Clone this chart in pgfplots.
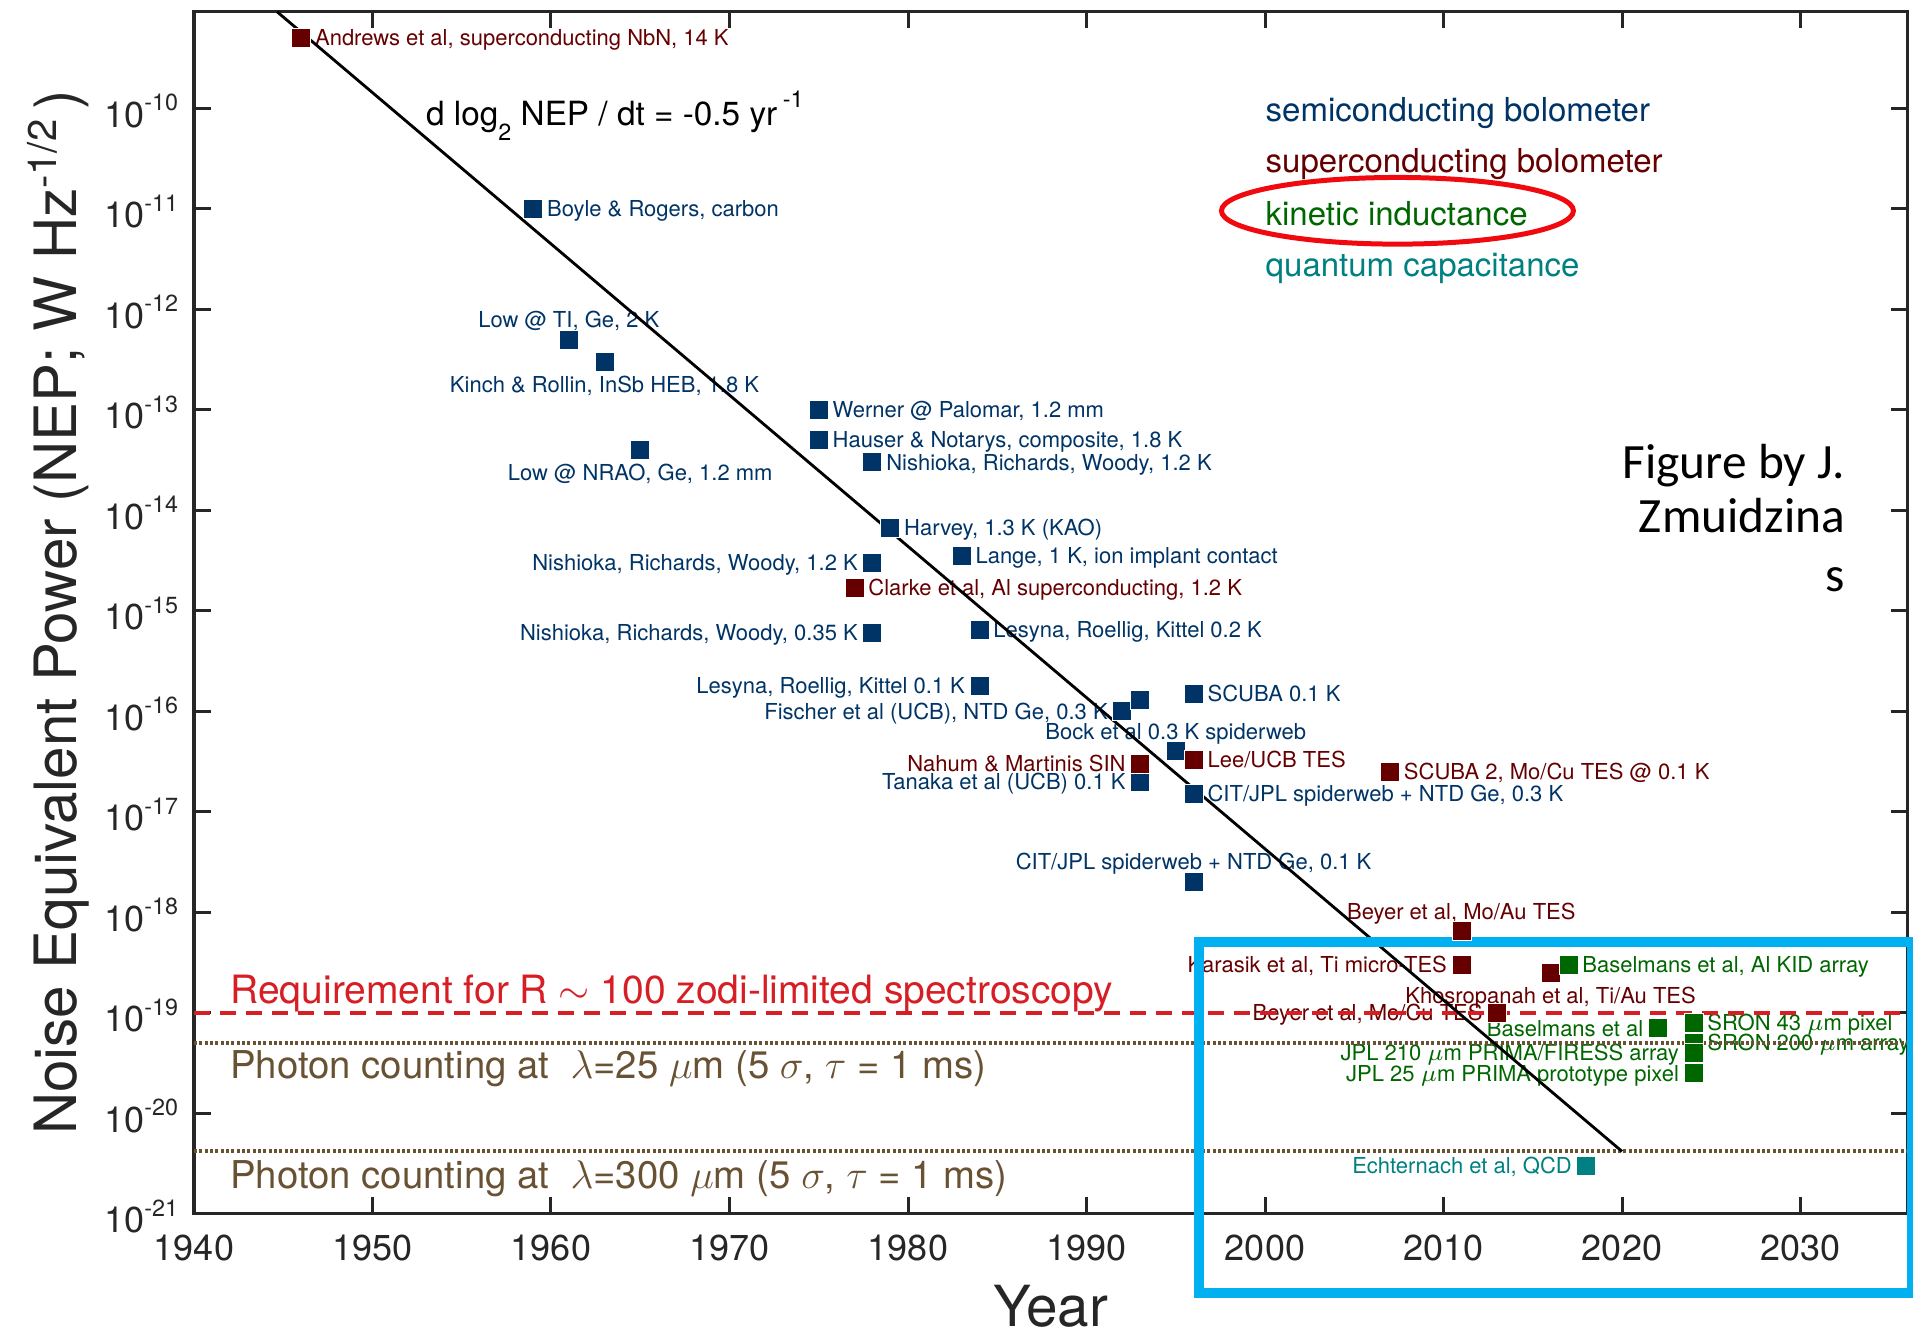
\documentclass[border=0pt]{standalone}
\usepackage{pgfplots}
\pgfplotsset{compat=1.18}
\usepackage{fontspec}
\setmainfont{TeX Gyre Heros}
\newfontfamily\credfont{Carlito}

\definecolor{semi}{RGB}{0,51,102}
\definecolor{supr}{RGB}{102,0,0}
\definecolor{kid}{RGB}{0,102,0}
\definecolor{qcd}{RGB}{0,128,128}
\definecolor{req}{RGB}{214,30,36}
\definecolor{phot}{RGB}{105,82,52}
\definecolor{axgray}{RGB}{38,38,38}
\definecolor{boxblue}{RGB}{0,176,240}
\definecolor{ring}{RGB}{240,10,15}

% small raised exponent, MATLAB style
\newcommand\tsup[1]{\raisebox{5pt}{\fontsize{7}{7}\selectfont #1}}

\tikzset{
  lbl/.style={font=\fontsize{6.6}{7.9}\selectfont, inner sep=0pt},
  R/.style={lbl, anchor=base west, xshift=4pt, yshift=-2.37pt},
  L/.style={lbl, anchor=base east, xshift=-4.15pt, yshift=-2.37pt},
  A/.style={lbl, anchor=base, yshift=3.6pt},
  B/.style={lbl, anchor=base, yshift=-9.1pt},
}

\begin{document}
\begin{tikzpicture}
\begin{axis}[
  scale only axis, width=514.1pt, height=360.6pt,
  xmin=1940, xmax=2036, ymode=log, ymin=1e-21, ymax=9.12e-10,
  clip=false,
  axis line style={axgray, line width=1pt},
  tick style={axgray, line width=0.9pt},
  major tick length=5pt, tick align=inside,
  yminorticks=false,
  xtick={1940,1950,...,2030},
  xticklabels={1940,1950,1960,1970,1980,1990,2000,2010,2020,2030},
  ytick={1e-21,1e-20,1e-19,1e-18,1e-17,1e-16,1e-15,1e-14,1e-13,1e-12,1e-11,1e-10},
  yticklabels={{10\tsup{-21}},{10\tsup{-20}},{10\tsup{-19}},{10\tsup{-18}},{10\tsup{-17}},{10\tsup{-16}},{10\tsup{-15}},{10\tsup{-14}},{10\tsup{-13}},{10\tsup{-12}},{10\tsup{-11}},{10\tsup{-10}}},
  xticklabel style={font=\fontsize{10.8}{13}\selectfont, anchor=base, inner sep=0pt, yshift=-14.1pt, text=axgray},
  yticklabel style={font=\fontsize{10.8}{13}\selectfont, anchor=base east, inner sep=0pt, xshift=-4.6pt, yshift=-5.7pt, text=axgray},
  xlabel={Year},
  xlabel style={font=\fontsize{17}{20}\selectfont, at={(axis description cs:0.5,0)}, anchor=base, yshift=-33.9pt, inner sep=0pt, text=axgray},
  ylabel={Noise Equivalent Power (NEP; W Hz\raisebox{6pt}{\fontsize{12}{12}\selectfont -1/2}\,)},
  ylabel style={font=\fontsize{17.5}{20}\selectfont, at={(axis description cs:-0.0686,0.5)}, anchor=base, inner sep=0pt, text=axgray},
]

% labels of the individual detectors
\node[R, semi] at (axis cs:1959,1e-11) {Boyle \& Rogers, carbon};
\node[A, semi] at (axis cs:1961,5e-13) {Low @ TI, Ge, 2 K};
\node[B, semi] at (axis cs:1963,3e-13) {Kinch \& Rollin, InSb HEB, 1.8 K};
\node[B, semi] at (axis cs:1965,4e-14) {Low @ NRAO, Ge, 1.2 mm};
\node[R, semi] at (axis cs:1975,1e-13) {Werner @ Palomar, 1.2 mm};
\node[R, semi] at (axis cs:1975,5e-14) {Hauser \& Notarys, composite, 1.8 K};
\node[R, semi] at (axis cs:1978,3e-14) {Nishioka, Richards, Woody, 1.2 K};
\node[R, semi] at (axis cs:1979,6.7e-15) {Harvey, 1.3 K (KAO)};
\node[L, semi] at (axis cs:1978,3e-15) {Nishioka, Richards, Woody, 1.2 K};
\node[R, semi] at (axis cs:1983,3.5e-15) {Lange, 1 K, ion implant contact};
\node[L, semi] at (axis cs:1978,6e-16) {Nishioka, Richards, Woody, 0.35 K};
\node[R, semi] at (axis cs:1984,6.5e-16) {Lesyna, Roellig, Kittel 0.2 K};
\node[L, semi] at (axis cs:1984,1.8e-16) {Lesyna, Roellig, Kittel 0.1 K};
\node[L, semi] at (axis cs:1992,1e-16) {Fischer et al (UCB), NTD Ge, 0.3 K};
\node[R, semi] at (axis cs:1996,1.5e-16) {SCUBA 0.1 K};
\node[A, semi] at (axis cs:1995,4e-17) {Bock et al 0.3 K spiderweb};
\node[L, semi] at (axis cs:1993,2e-17) {Tanaka et al (UCB) 0.1 K};
\node[R, semi] at (axis cs:1996,1.5e-17) {CIT/JPL spiderweb + NTD Ge, 0.3 K};
\node[A, semi] at (axis cs:1996,2e-18) {CIT/JPL spiderweb + NTD Ge, 0.1 K};

\node[R, supr] at (axis cs:1946,5e-10) {Andrews et al, superconducting NbN, 14 K};
\node[R, supr] at (axis cs:1977,1.7e-15) {Clarke et al, Al superconducting, 1.2 K};
\node[L, supr] at (axis cs:1993,3e-17) {Nahum \& Martinis SIN};
\node[R, supr] at (axis cs:1996,3.3e-17) {Lee/UCB TES};
\node[R, supr] at (axis cs:2007,2.5e-17) {SCUBA 2, Mo/Cu TES @ 0.1 K};
\node[A, supr] at (axis cs:2011,6.5e-19) {Beyer et al, Mo/Au TES};
\node[L, supr] at (axis cs:2011,3e-19) {Karasik et al, Ti micro-TES};
\node[B, supr] at (axis cs:2016,2.5e-19) {Khosropanah et al, Ti/Au TES};
\node[L, supr] at (axis cs:2013,1e-19) {Beyer et al, Mo/Cu TES};

\node[R, kid] at (axis cs:2017,3e-19) {Baselmans et al, Al KID array};
\node[L, kid] at (axis cs:2022,7e-20) {Baselmans et al};
\node[R, kid] at (axis cs:2024,8e-20) {SRON 43 $\mu$m pixel};
\node[R, kid] at (axis cs:2024,5e-20) {SRON 200 $\mu$m array};
\node[L, kid] at (axis cs:2024,4e-20) {JPL 210 $\mu$m PRIMA/FIRESS array};
\node[L, kid] at (axis cs:2024,2.5e-20) {JPL 25 $\mu$m PRIMA prototype pixel};

\node[L, qcd] at (axis cs:2018,3e-21) {Echternach et al, QCD};

% reference levels
\addplot[req, line width=1.2pt, dash pattern=on 4.8pt off 3pt] coordinates {(1940,1e-19) (2036,1e-19)};
\addplot[phot, line width=1.2pt, dash pattern=on 0.9pt off 0.7pt] coordinates {(1940,5e-20) (2036,5e-20)};
\addplot[phot, line width=1.2pt, dash pattern=on 0.9pt off 0.7pt] coordinates {(1940,4.17e-21) (2036,4.17e-21)};

\node[anchor=base west, inner sep=0pt, req, font=\fontsize{11.7}{14}\selectfont] at (axis cs:1942,1.242e-19) {Requirement for R $\sim$ 100 zodi-limited spectroscopy};
\node[anchor=base west, inner sep=0pt, phot, font=\fontsize{11.5}{14}\selectfont] at (axis cs:1942,2.24e-20) {Photon counting at \ $\lambda$=25 $\mu$m (5 $\sigma$, $\tau$ = 1 ms)};
\node[anchor=base west, inner sep=0pt, phot, font=\fontsize{11.5}{14}\selectfont] at (axis cs:1942,1.79e-21) {Photon counting at \ $\lambda$=300 $\mu$m (5 $\sigma$, $\tau$ = 1 ms)};

% detectors
\addplot[only marks, mark=square*, mark size=2.85pt, semi, mark options={draw=white, line width=0.2pt}] coordinates {
(1959,1e-11) (1961,5e-13) (1963,3e-13) (1965,4e-14) (1975,1e-13) (1975,5e-14)
(1978,3e-14) (1979,6.7e-15) (1978,3e-15) (1983,3.5e-15) (1978,6e-16) (1984,6.5e-16)
(1984,1.8e-16) (1992,1e-16) (1993,1.3e-16) (1996,1.5e-16) (1995,4e-17) (1993,2e-17)
(1996,1.5e-17) (1996,2e-18)};
\addplot[only marks, mark=square*, mark size=2.85pt, supr, mark options={draw=white, line width=0.2pt}] coordinates {
(1946,5e-10) (1977,1.7e-15) (1993,3e-17) (1996,3.3e-17) (2007,2.5e-17)
(2011,6.5e-19) (2011,3e-19) (2016,2.5e-19) (2013,1e-19)};
\addplot[only marks, mark=square*, mark size=2.85pt, kid, mark options={draw=white, line width=0.2pt}] coordinates {
(2017,3e-19) (2022,7e-20) (2024,8e-20) (2024,5e-20) (2024,4e-20) (2024,2.5e-20)};
\addplot[only marks, mark=square*, mark size=2.85pt, qcd, mark options={draw=white, line width=0.2pt}] coordinates {
(2018,3e-21)};

% trend: NEP halves every two years
\addplot[black, line width=0.85pt] coordinates {(1944.65,9.12e-10) (2020,4.17e-21)};
\node[anchor=base west, inner sep=0pt, font=\fontsize{10}{12}\selectfont] at (axis cs:1952.97,6.65e-11)
  {d log\raisebox{-4.5pt}{\fontsize{7}{7}\selectfont 2} NEP / dt = -0.5 yr\,\raisebox{5.5pt}{\fontsize{7}{7}\selectfont -1}};

% category key
\node[anchor=base west, inner sep=0pt, semi, font=\fontsize{9.9}{12}\selectfont] at (axis cs:2000,7.35e-11) {semiconducting bolometer};
\node[anchor=base west, inner sep=0pt, supr, font=\fontsize{9.9}{12}\selectfont] at (axis cs:2000,2.286e-11) {superconducting bolometer};
\node[anchor=base west, inner sep=0pt, kid, font=\fontsize{9.9}{12}\selectfont] at (axis cs:2000,6.87e-12) {kinetic inductance};
\node[anchor=base west, inner sep=0pt, qcd, font=\fontsize{9.9}{12}\selectfont] at (axis cs:2000,2.10e-12) {quantum capacitance};

% credit
\node[anchor=base east, inner sep=0pt, font=\credfont\fontsize{14.8}{17}\selectfont] at (axis cs:2032.53,2.075e-14) {Figure by J.};
\node[anchor=base east, inner sep=0pt, font=\credfont\fontsize{14.8}{17}\selectfont] at (axis cs:2032.53,5.97e-15) {Zmuidzina};
\node[anchor=base east, inner sep=0pt, font=\credfont\fontsize{14.8}{17}\selectfont] at (axis cs:2032.53,1.545e-15) {s};

% highlights
\draw[ring, line width=1.5pt] (axis cs:2007.42,9.53e-12) ellipse [x radius=52.8pt, y radius=10pt];
\draw[boxblue, line width=3pt] (axis cs:1996.33,5.09e-19) rectangle (axis cs:2036.26,1.614e-22);
\end{axis}
\pgfresetboundingbox
\useasboundingbox (-58.2pt,-36.69pt) rectangle (515.7pt,364.11pt);
\end{tikzpicture}
\end{document}
